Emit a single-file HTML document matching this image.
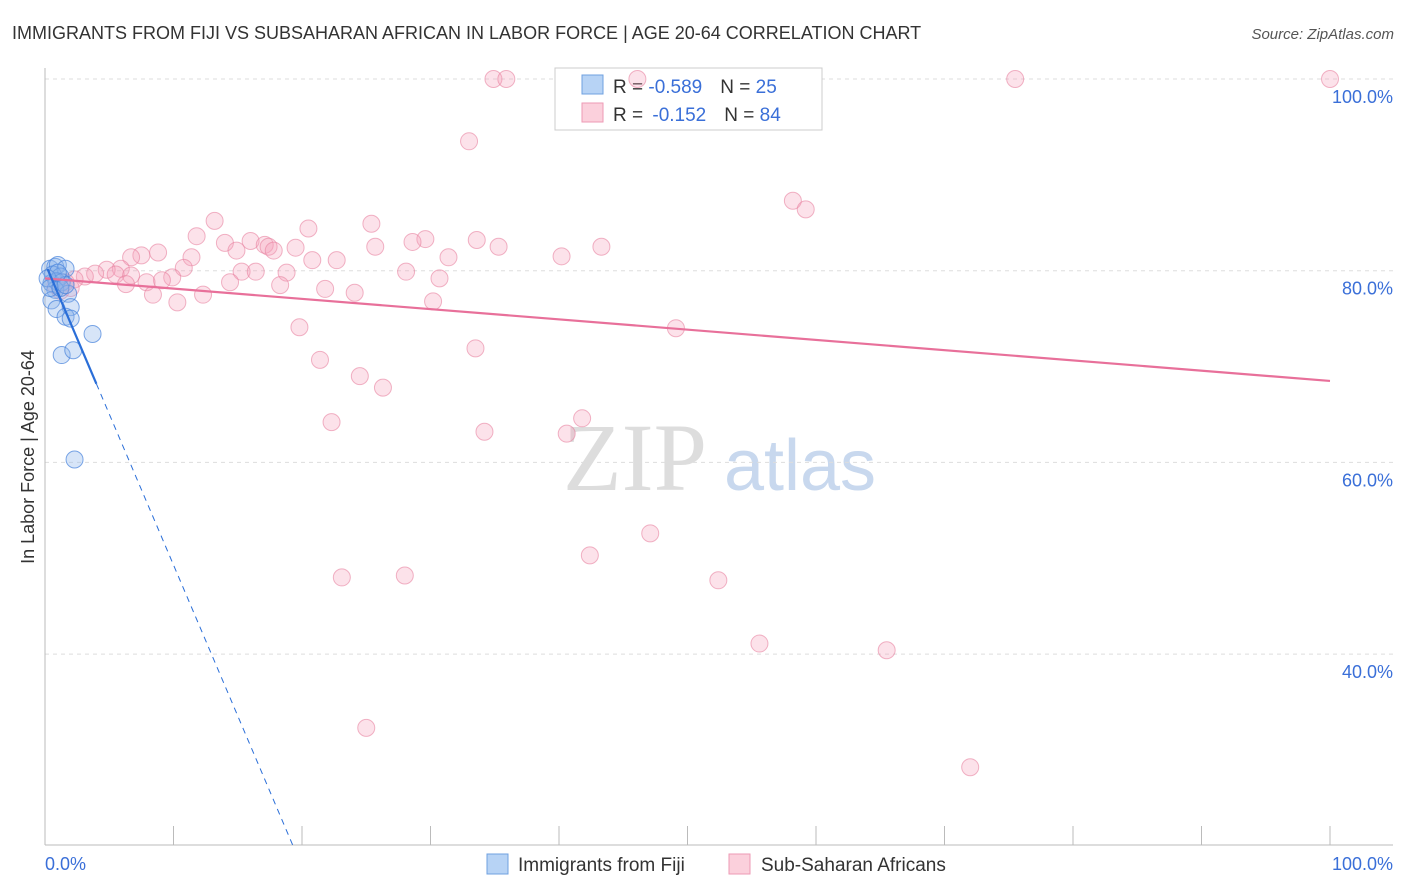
<!DOCTYPE html>
<html><head><meta charset="utf-8"><style>
body{margin:0;background:#fff;font-family:"Liberation Sans",sans-serif}
#wrap{position:relative;width:1406px;height:892px;overflow:hidden}
</style></head><body>
<div id="wrap">
<svg id="svg" width="1406" height="892">
<text x="12" y="39" font-size="18" fill="#333">IMMIGRANTS FROM FIJI VS SUBSAHARAN AFRICAN IN LABOR FORCE | AGE 20-64 CORRELATION CHART</text>
<text x="1394" y="39" font-size="15" fill="#555" text-anchor="end" font-style="italic">Source: ZipAtlas.com</text>
<text x="34" y="457" font-size="18" fill="#333" text-anchor="middle" transform="rotate(-90 34 457)">In Labor Force | Age 20-64</text>
<g><text x="635" y="490" font-size="96" fill="#ddd" text-anchor="middle" font-family="Liberation Serif,serif">ZIP</text><text x="800" y="490" font-size="72" fill="#c8d8ee" text-anchor="middle">atlas</text></g>
<g id="grid"></g>
<g>
<rect x="555" y="68" width="267" height="62" fill="#fff" stroke="#ccc"/>
<rect x="582" y="75" width="21" height="19" fill="#b7d3f5" stroke="#6fa0e0"/>
<rect x="582" y="103" width="21" height="19" fill="#fbd0dc" stroke="#ee9ab5"/>
<text x="613" y="93" font-size="19" fill="#333">R = <tspan fill="#3a6fd8">-0.589</tspan><tspan dx="18">N = </tspan><tspan fill="#3a6fd8">25</tspan></text>
<text x="613" y="121" font-size="19" fill="#333">R = <tspan fill="#3a6fd8" dx="4">-0.152</tspan><tspan dx="18">N = </tspan><tspan fill="#3a6fd8">84</tspan></text>
</g>
<g id="pts"></g><g id="lines"></g>
<g>
<rect x="487" y="854" width="21" height="20" fill="#b7d3f5" stroke="#6fa0e0"/>
<text x="518" y="871" font-size="19" fill="#333">Immigrants from Fiji</text>
<rect x="729" y="854" width="21" height="20" fill="#fbd0dc" stroke="#ee9ab5"/>
<text x="761" y="871" font-size="19" fill="#333">Sub-Saharan Africans</text>
</g>
<text x="45" y="870" font-size="18" fill="#3a6fd8">0.0%</text>
<text x="1393" y="870" font-size="18" fill="#3a6fd8" text-anchor="end">100.0%</text>
</svg></div>
<script>
const yTicks=[100,80,60,40];
const fijiX=[0.4,0.8,1.0,1.6,0.6,1.2,0.5,0.9,1.3,0.8,1.8,0.5,0.9,2.0,1.6,2.0,3.7,1.3,2.2,2.3,0.2,0.4,1.2,1.6,1.0];
const fijiY=[80.2,80.4,80.6,80.2,79.6,79.4,78.7,78.9,78.8,78.0,77.6,76.9,76.0,76.2,75.2,75.0,73.4,71.2,71.7,60.3,79.2,78.2,78.2,78.5,79.8];
const ssaX=[34.9,35.9,46.1,75.5,100,33,58.2,59.2,13.2,25.4,20.5,11.8,16,14,29.6,28.6,33.6,17.1,17.4,14.9,19.5,25.7,35.3,43.3,8.8,7.5,6.7,11.4,17.8,40.2,31.4,20.8,22.7,10.8,5.9,4.8,3.9,3.1,2.3,5.5,6.7,15.3,16.4,18.8,28.1,9.9,9.1,7.9,6.3,14.4,30.7,18.3,21.8,24.1,8.4,12.3,10.3,30.2,19.8,49.1,33.5,21.4,24.5,26.3,22.3,41.8,34.2,40.6,47.1,42.4,23.1,28,52.4,55.6,65.5,25,72,1.6,2,1.2,0.8];
const ssaY=[100,100,100,100,100,93.5,87.3,86.4,85.2,84.9,84.4,83.6,83.1,82.9,83.3,83,83.2,82.7,82.5,82.1,82.4,82.5,82.5,82.5,81.9,81.6,81.4,81.4,82.1,81.5,81.4,81.1,81.1,80.3,80.2,80.1,79.7,79.4,79.1,79.6,79.5,79.9,79.9,79.8,79.9,79.3,79,78.8,78.6,78.8,79.2,78.5,78.1,77.7,77.5,77.5,76.7,76.8,74.1,74,71.9,70.7,69,67.8,64.2,64.6,63.2,63,52.6,50.3,48,48.2,47.7,41.1,40.4,32.3,28.2,78.8,78.2,77.9,78.5];
const ssaTrend=[79.2,68.5];
const fijiTrend=[80.8,-3.15];
const X=v=>45+v*12.85, Y=v=>79+(100-v)*9.585;
const NS="http://www.w3.org/2000/svg";
function mk(tag,parent,attrs){const e=document.createElementNS(NS,tag);for(const k in attrs)e.setAttribute(k,attrs[k]);parent.appendChild(e);return e;}
const grid=document.getElementById('grid');
yTicks.forEach(t=>{
 const l=mk('line',grid,{x1:45,x2:1393,y1:Y(t),y2:Y(t),stroke:'#ddd','stroke-dasharray':'4,4'});
 
 
 const tx=mk('text',grid,{x:1393,y:Y(t)+24,'font-size':18,fill:'#3a6fd8','text-anchor':'end'});
 tx.textContent=t.toFixed(1)+'%';
 
 
});
const ax=mk('line',grid,{x1:45,x2:1393,y1:845,y2:845,stroke:'#bbb'});


const ay=mk('line',grid,{x1:45,x2:45,y1:68,y2:845,stroke:'#bbb'});


for(let i=1;i<=10;i++){const tk=mk('line',grid,{x1:X(i*10),x2:X(i*10),y1:826,y2:845,stroke:'#bbb'});
 
 }
const pts=document.getElementById('pts');
ssaX.forEach((x,i)=>{const c=mk('circle',pts,{cx:X(x),cy:Y(ssaY[i]),r:8.5,fill:'rgba(246,160,185,0.3)',stroke:'rgba(232,130,160,0.6)'});
 
 });
fijiX.forEach((x,i)=>{const c=mk('circle',pts,{cx:X(x),cy:Y(fijiY[i]),r:8.5,fill:'rgba(140,180,235,0.35)',stroke:'rgba(70,130,220,0.7)'});
 
 });
const lines=document.getElementById('lines');
const p=mk('line',lines,{x1:X(0),y1:Y(ssaTrend[0]),x2:X(100),y2:Y(ssaTrend[1]),stroke:'#e8709a','stroke-width':2.2});


const fy=x=>fijiTrend[0]+fijiTrend[1]*x;
const b1=mk('line',lines,{x1:X(0.2),y1:Y(fy(0.2)),x2:X(4),y2:Y(fy(4)),stroke:'#2a6ed8','stroke-width':2.2});


const xe=(20-fijiTrend[0])/fijiTrend[1];
const b2=mk('line',lines,{x1:X(4),y1:Y(fy(4)),x2:X(xe),y2:Y(20),stroke:'#2a6ed8','stroke-width':1,'stroke-dasharray':'6,5'});


</script>
</body></html>
